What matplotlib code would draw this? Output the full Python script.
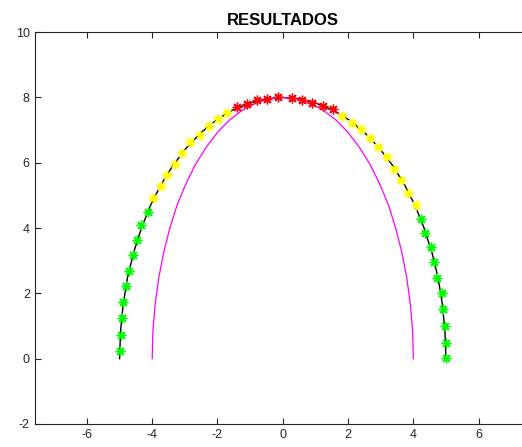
import matplotlib
matplotlib.use("Agg")
import matplotlib.pyplot as plt

plt.rcParams['font.family'] = ['Liberation Sans', 'DejaVu Sans']
plt.rcParams['axes.unicode_minus'] = False

# black curve (outer arc)
arc_x = [5.00, 4.97, 4.89, 4.76, 4.57, 4.33, 4.05, 3.72, 3.35, 2.94, 2.50, 2.03, 1.55, 1.04, 0.52, 0.00,
         -0.52, -1.04, -1.55, -2.03, -2.50, -2.94, -3.35, -3.72, -4.05, -4.33, -4.57, -4.76, -4.89, -4.97, -5.00]
arc_y = [0.00, 0.84, 1.66, 2.47, 3.25, 4.00, 4.70, 5.35, 5.94, 6.47, 6.93, 7.31, 7.61, 7.82, 7.96, 8.00,
         7.96, 7.82, 7.61, 7.31, 6.93, 6.47, 5.94, 5.35, 4.70, 4.00, 3.25, 2.47, 1.66, 0.84, 0.00]

# magenta curve (inner arc)
inner_x = [4.00, 3.98, 3.91, 3.80, 3.65, 3.46, 3.24, 2.97, 2.68, 2.35, 2.00, 1.63, 1.24, 0.83, 0.42, 0.00,
           -0.42, -0.83, -1.24, -1.63, -2.00, -2.35, -2.68, -2.97, -3.24, -3.46, -3.65, -3.80, -3.91, -3.98, -4.00]
inner_y = arc_y

# points by group
green_x = [-4.14, -4.33, -4.48, -4.60, -4.72, -4.79, -4.91, -4.94, -4.97, -5.00,
           4.22, 4.36, 4.54, 4.63, 4.74, 4.87, 4.90, 4.97, 5.00, 5.00]
green_y = [4.48, 4.08, 3.65, 3.19, 2.70, 2.24, 1.75, 1.26, 0.74, 0.25,
           4.28, 3.86, 3.41, 2.95, 2.46, 2.00, 1.52, 1.01, 0.48, 0.02]
yellow_x = [-3.98, -3.74, -3.54, -3.31, -3.09, -2.85, -2.55, -2.27, -1.98, -1.70,
            1.82, 2.11, 2.39, 2.67, 2.92, 3.18, 3.41, 3.62, 3.84, 4.07]
yellow_y = [4.93, 5.29, 5.64, 5.97, 6.31, 6.63, 6.86, 7.12, 7.33, 7.52,
            7.43, 7.23, 7.02, 6.77, 6.48, 6.17, 5.82, 5.46, 5.08, 4.71]
red_x = [-1.40, -1.09, -0.79, -0.48, -0.14, 0.27, 0.60, 0.91, 1.24, 1.54]
red_y = [7.71, 7.81, 7.91, 7.96, 8.00, 7.98, 7.91, 7.84, 7.74, 7.64]

x_ticks = [-6, -4, -2, 0, 2, 4, 6]
y_ticks = [-2, 0, 2, 4, 6, 8, 10]

fig = plt.figure(figsize=(5.22, 4.47), dpi=100)
ax = fig.add_axes([0.0665, 0.0515, 0.9504, 0.8765])

ax.plot(arc_x, arc_y, color='black', lw=1.0, zorder=2)
ax.plot(inner_x, inner_y, color='magenta', lw=0.9, zorder=2)
star = (8, 2, 0)
for xs, ys, c in [(green_x, green_y, (0, 1, 0)), (yellow_x, yellow_y, (1, 1, 0)), (red_x, red_y, (1, 0, 0))]:
    ax.plot(xs, ys, linestyle='none', marker=star, ms=7, mew=1.0, color=c, zorder=3)

ax.set_xlim(-7.6, 7.6)
ax.set_ylim(-2, 10)
ax.set_xticks(x_ticks)
ax.set_yticks(y_ticks)
ax.tick_params(direction='in', top=True, right=True, length=4, width=0.8,
               labelsize=9, colors='#262626')
for s in ax.spines.values():
    s.set_color('#262626')
    s.set_linewidth(0.8)
ax.set_title('RESULTADOS', fontsize=12, fontweight='bold', pad=5)

fig.savefig('out.png', dpi=100)
